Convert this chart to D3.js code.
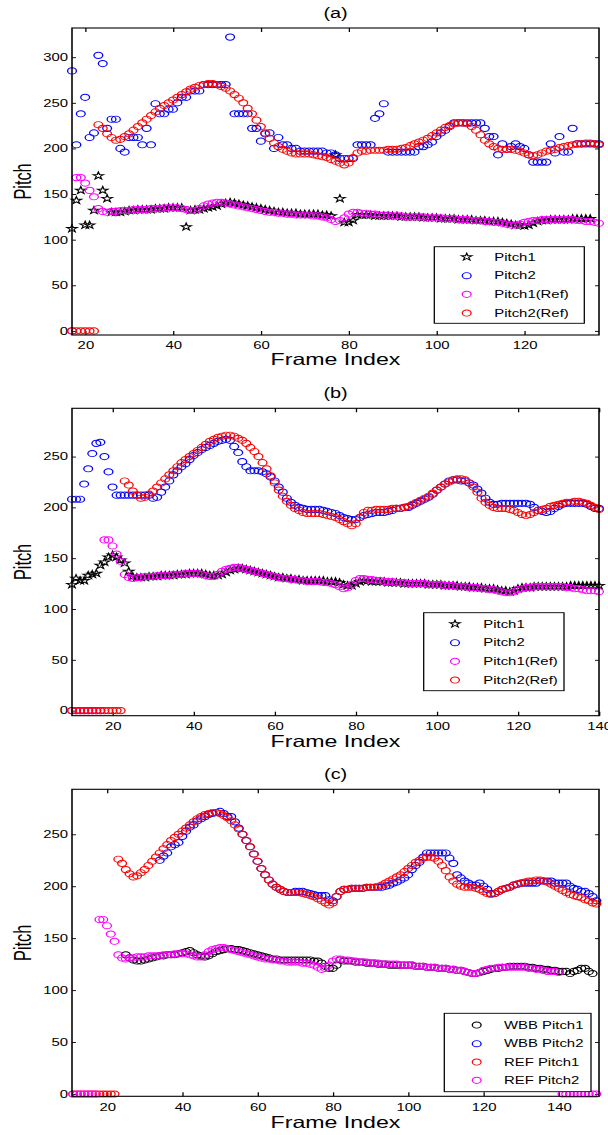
<!DOCTYPE html>
<html><head><meta charset="utf-8">
<script src="https://cdn.jsdelivr.net/npm/d3@7"></script>
<style>html,body{margin:0;padding:0;background:#fff;} svg{display:block;}</style>
</head><body>
<svg id="chart" width="608" height="1135"></svg>
<script>
// ---------------- DATA ----------------
// Reference pitch tracks (shared by the three panels), frame index starts at 10
const refPitch1Start = 10;
const refPitch1 = [0,0,0,0,0,0,0,0,
 168,168,162,154,147,134,131,130,
 131,131,132,132,132,133,133,133,133,134,
 134,134,135,135,135,135,134,133,132,132,
 134,137,139,140,141,141,140,139,138,137,
 136,135,134,133,132,131,130,130,129,129,
 128,128,127,127,127,127,126,126,125,124,
 122,120,121,124,128,130,130,129,129,128,
 128,127,127,127,126,126,126,125,125,125,
 125,125,124,124,124,124,123,123,123,122,
 122,122,121,121,121,120,120,119,119,118,
 117,116,116,117,119,120,121,121,122,122,
 122,122,122,122,122,122,121,121,120,120,
 119,118,118,118,117,0,0,0,0,0,
 0,0,0,0,0];
const refPitch2Start = 10;
const refPitch2 = [0,0,0,0,0,0,0,0,0,0,0,0,0,
 226,222,216,212,209,210,213,216,
 220,224,228,232,236,240,244,247,250,253,
 256,259,262,265,267,269,270,271,271,270,
 268,266,263,259,255,250,244,238,231,224,
 217,211,206,202,199,197,195,194,194,194,
 194,193,192,191,190,188,186,184,182,184,
 190,195,197,197,198,198,198,198,199,199,
 199,200,201,203,205,207,209,211,214,217,
 220,223,225,227,228,228,227,224,220,215,
 209,205,202,200,199,199,199,198,197,195,
 193,192,193,195,197,198,199,201,202,203,
 204,205,205,206,206,205,204,202,200,198,
 196,194,192,191,190,189,187,186,184,183];

// Panel (a) estimates
const aPitch1Start = 17;
const aPitch1 = [112,143,154,116,116,132,170,154,145,
 130,130,130,131,132,132,133,133,133,133,
 134,134,134,135,135,135,135,114,132,133,
 133,134,135,136,137,139,140,141,140,139,
 138,137,136,135,134,133,132,131,130,130,
 129,129,129,128,128,128,128,128,127,127,
 126,193,145,119,119,121,127,127,127,127,
 126,126,126,126,126,126,125,125,125,125,
 125,124,124,124,124,123,123,123,123,122,
 122,122,122,121,121,121,120,120,120,119,
 118,117,116,116,115,116,118,120,121,121,
 122,122,122,122,122,123,123,123,123,123];
const aPitch2Start = 17;
const aPitch2 = [285,204,238,256,212,217,302,293,222,232,
 232,200,196,212,212,212,204,222,204,249,
 238,238,243,243,250,256,256,263,263,263,
 270,270,270,270,270,270,322,238,238,238,
 238,222,222,208,216,217,200,212,204,204,
 200,200,197,197,197,197,197,197,195,195,
 193,189,189,189,189,204,204,204,204,233,
 238,249,196,196,196,196,196,196,196,202,
 202,204,207,213,217,220,224,228,228,228,
 228,228,228,228,222,213,213,193,205,199,
 202,205,202,200,193,185,185,185,185,205,
 195,213,196,196,222,205,205,205,205,205,
 205];

// Panel (b) estimates
const bPitch1Start = 10;
const bPitch1 = [124,130,128,128,133,134,135,143,146,151,
 153,151,148,145,137,132,131,131,131,132,
 132,132,133,133,133,133,134,134,134,135,
 135,135,135,134,133,133,133,134,136,138,
 139,140,140,139,138,137,136,135,134,133,
 132,131,131,130,130,129,129,128,128,128,
 128,128,128,127,127,127,126,124,123,123,
 125,127,128,128,127,127,127,127,126,126,
 126,126,125,125,125,125,125,125,124,124,
 124,124,123,123,123,123,122,122,122,121,
 121,121,120,120,120,119,118,118,117,118,
 120,121,121,121,122,122,122,122,122,122,
 122,122,122,123,123,123,123,123,123,123,
 123];
const bPitch2Start = 10;
const bPitch2 = [208,208,208,223,238,253,263,264,250,235,
 220,212,212,212,212,212,212,212,212,212,
 209,210,215,220,226,232,236,240,243,247,
 251,254,257,259,261,263,265,266,267,266,
 260,254,245,240,236,236,236,235,233,230,
 226,220,215,209,205,202,200,199,198,198,
 198,198,197,196,195,194,192,190,189,188,
 188,190,192,193,194,195,195,195,196,197,
 199,199,200,200,202,204,206,208,210,213,
 217,220,223,226,227,227,226,226,224,222,
 218,214,209,205,203,203,204,204,204,204,
 204,204,204,203,200,197,196,195,196,199,
 201,203,204,204,204,204,204,203,201,199,
 199];

// Panel (c) estimates
const cWbbPitch1Start = 25;
const cWbbPitch1 = [134,131,129,128,128,129,130,131,132,133,
 133,134,134,134,135,136,137,138,136,134,
 133,132,133,135,137,138,139,140,140,139,
 139,138,137,136,135,134,133,132,131,130,
 130,129,129,129,129,129,129,129,129,129,
 128,128,126,123,121,121,124,129,128,128,
 128,127,127,127,126,126,126,125,125,125,
 124,124,124,124,124,124,124,123,123,123,
 122,122,122,121,121,121,120,120,119,119,
 118,117,116,116,117,118,119,120,121,121,
 122,122,123,123,123,123,123,122,122,121,
 121,120,120,119,119,118,118,118,116,118,
 119,121,121,118,116];
const cWbbPitch2Start = 34;
const cWbbPitch2 = [225,229,232,238,240,242,248,253,257,259,
 263,265,267,269,270,271,272,270,267,267,
 262,256,250,244,238,231,224,217,211,206,
 202,199,197,195,194,194,195,195,195,194,
 193,192,191,191,191,187,186,190,195,197,
 197,198,198,198,198,199,199,199,199,199,
 200,201,203,204,206,208,211,216,220,223,
 228,232,232,232,232,232,232,227,222,211,
 208,205,203,201,201,203,200,197,193,193,
 195,197,198,199,201,202,203,203,203,203,
 203,205,205,205,205,203,203,203,203,200,
 198,197,195,195,193,190,186];

// Ticks and labels
const xTicksA = [20,40,60,80,100,120];
const yTicksA = [0,50,100,150,200,250,300];
const xTicksBC = [20,40,60,80,100,120,140];
const yTicksBC = [0,50,100,150,200,250];
const legendAB = ["Pitch1","Pitch2","Pitch1(Ref)","Pitch2(Ref)"];
const legendC = ["WBB Pitch1","WBB Pitch2","REF Pitch1","REF Pitch2"];
const titles = ["(a)","(b)","(c)"];
const xLabel = "Frame Index";
const yLabel = "Pitch";

// ---------------- DRAWING ----------------
const SX = 1.42; // horizontal stretch of the original figure
const ix = v => v / SX;
const FONT = "'Liberation Sans', Arial, Helvetica, sans-serif";
const svg = d3.select("#chart");
svg.append("rect").attr("width",608).attr("height",1135).attr("fill","#fff");
const root = svg.append("g").attr("transform", `scale(${SX},1)`);

function pts(start, values, lo, hi) {
  return values.map((v,i)=>({f:start+i, v:v})).filter(d=>d.f>=lo && d.f<=hi);
}
function starPath(R) {
  const r = R*0.382; let p = "";
  for (let k=0;k<10;k++){
    const a = -Math.PI/2 + k*Math.PI/5, rr = (k%2===0)?R:r;
    p += (k===0?"M":"L") + (rr*Math.cos(a)).toFixed(3) + "," + (rr*Math.sin(a)).toFixed(3);
  }
  return p + "Z";
}
const STAR = starPath(3.9);
const CR = 3.1;

function marker(g, type, color, cx, cy) {
  if (type === "star") {
    g.append("path").attr("d", STAR).attr("transform", `translate(${cx},${cy})`)
      .attr("fill","none").attr("stroke",color).attr("stroke-width",0.9);
  } else {
    g.append("circle").attr("cx",cx).attr("cy",cy).attr("r",CR)
      .attr("fill","none").attr("stroke",color).attr("stroke-width",0.95);
  }
}

const panels = [
 {title:titles[0], top:28, bottom:335, xDomain:[17,137], yDomain:[-4.5,332], xTicks:xTicksA, yTicks:yTicksA,
  titleY:17.6, xlabY:365, leg:{x0:434.3,x1:584.3,y0:246.7,y1:323.3,rows:[257,275.7,294.3,313],mx:466.7,tx:494.3}, names:legendAB,
  series:[
   {data:pts(aPitch1Start,aPitch1,17,137), color:"#000000", type:"star"},
   {data:pts(aPitch2Start,aPitch2,17,137), color:"#0000ff", type:"circle"},
   {data:pts(refPitch1Start,refPitch1,17,137), color:"#ff00ff", type:"circle"},
   {data:pts(refPitch2Start,refPitch2,17,137), color:"#ff0000", type:"circle"}]},
 {title:titles[1], top:408.3, bottom:715.7, xDomain:[10,140], yDomain:[-5,297.5], xTicks:xTicksBC, yTicks:yTicksBC,
  titleY:398, xlabY:747, leg:{x0:423.7,x1:564,y0:612.7,y1:690.7,rows:[624,642.7,661.3,680],mx:455,tx:483.3}, names:legendAB,
  series:[
   {data:pts(bPitch1Start,bPitch1,10,140), color:"#000000", type:"star"},
   {data:pts(bPitch2Start,bPitch2,10,140), color:"#0000ff", type:"circle"},
   {data:pts(refPitch1Start,refPitch1,10,140), color:"#ff00ff", type:"circle"},
   {data:pts(refPitch2Start,refPitch2,10,140), color:"#ff0000", type:"circle"}]},
 {title:titles[2], top:789.3, bottom:1096.3, xDomain:[10.7,150.7], yDomain:[-2.2,293.3], xTicks:xTicksBC, yTicks:yTicksBC,
  titleY:779, xlabY:1128.5, leg:{x0:444.3,x1:591,y0:1013.3,y1:1091.7,rows:[1025,1043.7,1062,1080.3],mx:476.7,tx:504}, names:legendC,
  series:[
   {data:pts(cWbbPitch1Start,cWbbPitch1,11,150), color:"#000000", type:"circle"},
   {data:pts(cWbbPitch2Start,cWbbPitch2,11,150), color:"#0000ff", type:"circle"},
   {data:pts(refPitch2Start,refPitch2,11,150), color:"#ff0000", type:"circle"},
   {data:pts(refPitch1Start,refPitch1,11,150), color:"#ff00ff", type:"circle"}]}
];

const LEFT = 72, RIGHT = 599;

panels.forEach(p => {
  const g = root.append("g");
  const x = d3.scaleLinear().domain(p.xDomain).range([ix(LEFT), ix(RIGHT)]);
  const y = d3.scaleLinear().domain(p.yDomain).range([p.bottom, p.top]);

  g.append("rect").attr("x",ix(LEFT)).attr("y",p.top).attr("width",ix(RIGHT)-ix(LEFT)).attr("height",p.bottom-p.top).attr("fill","#fff");

  const styleAxis = sel => { sel.attr("font-family",FONT).attr("font-size",10.5);
    sel.select(".domain").remove(); sel.selectAll("line").attr("stroke","#000").attr("stroke-width",0.9);
    sel.selectAll("text").attr("fill","#000"); };
  g.append("g").attr("transform",`translate(0,${p.bottom})`)
    .call(d3.axisBottom(x).tickValues(p.xTicks).tickSize(-4).tickPadding(7).tickFormat(d3.format("d"))).call(styleAxis);
  g.append("g").attr("transform",`translate(0,${p.top})`)
    .call(d3.axisTop(x).tickValues(p.xTicks).tickSize(-4).tickFormat(()=>"")).call(styleAxis);
  g.append("g").attr("transform",`translate(${ix(LEFT)},0)`)
    .call(d3.axisLeft(y).tickValues(p.yTicks).tickSize(-4/SX).tickPadding(2.8).tickFormat(d3.format("d"))).call(styleAxis);
  g.append("g").attr("transform",`translate(${ix(RIGHT)},0)`)
    .call(d3.axisRight(y).tickValues(p.yTicks).tickSize(-4/SX).tickFormat(()=>"")).call(styleAxis);

  p.series.forEach(s => {
    const sg = g.append("g");
    s.data.forEach(d => marker(sg, s.type, s.color, x(d.f), y(d.v)));
  });

  g.append("rect").attr("x",ix(LEFT)).attr("y",p.top).attr("width",ix(RIGHT)-ix(LEFT)).attr("height",p.bottom-p.top)
    .attr("fill","none").attr("stroke","#000").attr("stroke-width",1.1);

  const L = p.leg;
  const lg = g.append("g");
  lg.append("rect").attr("x",ix(L.x0)).attr("y",L.y0).attr("width",ix(L.x1)-ix(L.x0)).attr("height",L.y1-L.y0)
    .attr("fill","#fff").attr("stroke","#000").attr("stroke-width",0.9);
  p.series.forEach((s,i) => {
    marker(lg, s.type, s.color, ix(L.mx), L.rows[i]);
    lg.append("text").attr("x",ix(L.tx)).attr("y",L.rows[i]).attr("dy","0.36em")
      .attr("font-family",FONT).attr("font-size",10.5).attr("fill","#000").text(p.names[i]);
  });

  g.append("text").attr("x",ix(335.6)).attr("y",p.titleY).attr("text-anchor","middle")
    .attr("font-family",FONT).attr("font-size",14).attr("fill","#000").text(p.title);
  g.append("text").attr("x",ix(335.5)).attr("y",p.xlabY).attr("text-anchor","middle")
    .attr("font-family",FONT).attr("font-size",16.3).attr("fill","#000").text(xLabel);
  g.append("text").attr("transform",`translate(${ix(23)},${(p.top+p.bottom)/2}) rotate(-90)`)
    .attr("text-anchor","middle").attr("dy","0.36em")
    .attr("font-family",FONT).attr("font-size",16.3).attr("fill","#000").text(yLabel);
});
</script>
</body></html>
